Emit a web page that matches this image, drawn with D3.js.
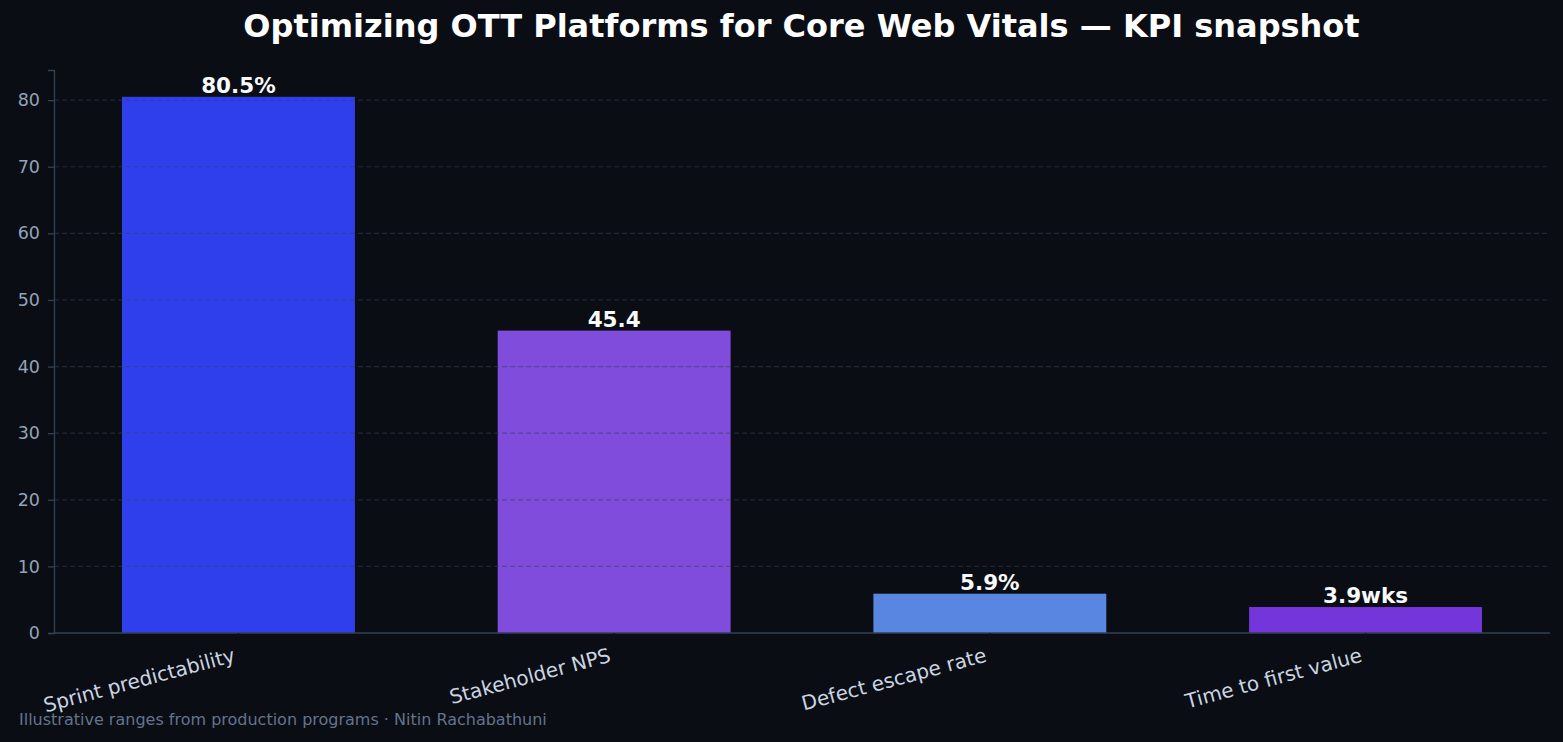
<!DOCTYPE html>
<html>
<head>
<meta charset="utf-8">
<script src="https://cdn.jsdelivr.net/npm/d3@7"></script>
<style>
  body { margin: 0; background: #0a0d14; }
  svg { display: block; font-family: "DejaVu Sans", sans-serif; }
</style>
</head>
<body>
<div id="chart"></div>
<script>
// chart data
var categories = ["Sprint predictability", "Stakeholder NPS", "Defect escape rate", "Time to first value"];
var values = [80.5, 45.4, 5.9, 3.9];
var valueLabels = ["80.5%", "45.4", "5.9%", "3.9wks"];
var barColors = ["#2e3feb", "#7f4cdb", "#5886e0", "#7435da"];
var yTicks = [0, 10, 20, 30, 40, 50, 60, 70, 80];

var width = 1563;
var height = 742;
var margin = { top: 70, right: 13, bottom: 109, left: 54 };

var svg = d3.select("#chart")
    .append("svg")
    .attr("width", width)
    .attr("height", height);

svg.append("rect")
    .attr("width", width)
    .attr("height", height)
    .attr("fill", "#0a0d14");

var x = d3.scaleBand()
    .domain(categories)
    .range([margin.left, width - margin.right])
    .paddingInner(0.38)
    .paddingOuter(0.181);

var y = d3.scaleLinear()
    .domain([0, d3.max(values) * 1.05])
    .range([height - margin.bottom, margin.top]);

var data = categories.map(function (c, i) {
    return { cat: c, value: values[i], label: valueLabels[i], color: barColors[i] };
});

// bars
svg.selectAll("rect.bar")
    .data(data)
    .enter()
    .append("rect")
    .attr("class", "bar")
    .attr("x", function (d) { return x(d.cat); })
    .attr("y", function (d) { return y(d.value); })
    .attr("width", x.bandwidth())
    .attr("height", function (d) { return y(0) - y(d.value); })
    .attr("fill", function (d) { return d.color; });

// grid lines sit on top of the bars
svg.append("g")
    .selectAll("line")
    .data(yTicks.filter(function (t) { return t > 0; }))
    .enter()
    .append("line")
    .attr("x1", margin.left)
    .attr("x2", width - margin.right)
    .attr("y1", function (d) { return y(d); })
    .attr("y2", function (d) { return y(d); })
    .attr("stroke", "#334155")
    .attr("stroke-opacity", 0.5)
    .attr("stroke-width", 1.2)
    .attr("stroke-dasharray", "5,3");

// y axis
var yAxis = svg.append("g")
    .attr("transform", "translate(" + margin.left + ",0)")
    .call(d3.axisLeft(y).tickValues(yTicks).tickSize(6).tickPadding(8));
yAxis.select(".domain").attr("stroke", "#334155").attr("stroke-width", 1.3);
yAxis.selectAll(".tick line").attr("stroke", "#334155").attr("stroke-width", 1.3);
yAxis.selectAll(".tick text")
    .attr("fill", "#94a3b8")
    .style("font-size", "17.5px")
    .style("font-family", "DejaVu Sans, sans-serif");

// x axis
var xAxis = svg.append("g")
    .attr("transform", "translate(0," + y(0) + ")")
    .call(d3.axisBottom(x).tickSize(6).tickSizeOuter(0));
xAxis.select(".domain")
    .attr("d", "M" + margin.left + ",0H" + (width - margin.right))
    .attr("stroke", "#334155")
    .attr("stroke-width", 1.3);
xAxis.selectAll(".tick line").attr("stroke", "#0f1218").attr("stroke-width", 1.3);

// rotated labels: right edge of the rotated box at the tick, top just under the axis
var angle = 15 * Math.PI / 180;
xAxis.selectAll(".tick text")
    .attr("fill", "#cbd5e1")
    .style("font-size", "20px")
    .style("font-family", "DejaVu Sans, sans-serif")
    .attr("text-anchor", "end")
    .attr("y", 0)
    .attr("dy", 0)
    .each(function () {
        var b = this.getBBox();
        var asc = -b.y, desc = b.y + b.height;
        var tx = -desc * Math.sin(angle) - 1;
        var ty = 10 + asc * Math.cos(angle);
        d3.select(this).attr("transform", "translate(" + tx + "," + ty + ") rotate(-15)");
    });

// value labels
svg.selectAll("text.value")
    .data(data)
    .enter()
    .append("text")
    .attr("class", "value")
    .attr("x", function (d) { return x(d.cat) + x.bandwidth() / 2; })
    .attr("y", function (d) { return y(d.value) - 4; })
    .attr("text-anchor", "middle")
    .attr("fill", "#f8fafc")
    .style("font-size", "21.5px")
    .style("font-weight", "bold")
    .text(function (d) { return d.label; });

// title
svg.append("text")
    .attr("x", width / 2 + 20)
    .attr("y", 37)
    .attr("text-anchor", "middle")
    .attr("fill", "#ffffff")
    .style("font-size", "32px")
    .style("font-weight", "bold")
    .text("Optimizing OTT Platforms for Core Web Vitals \u2014 KPI snapshot");

// footer
svg.append("text")
    .attr("x", 19)
    .attr("y", 725)
    .attr("fill", "#64748b")
    .style("font-size", "16px")
    .text("Illustrative ranges from production programs \u00b7 Nitin Rachabathuni");
</script>
</body>
</html>
